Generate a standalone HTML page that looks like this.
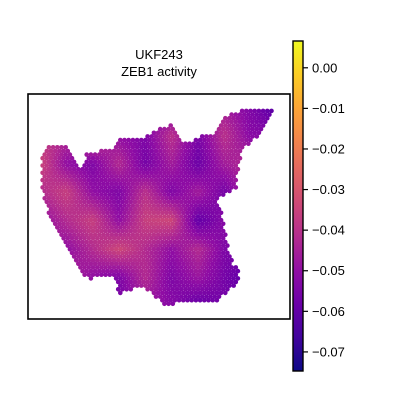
<!DOCTYPE html>
<html><head><meta charset="utf-8"><style>
body{margin:0;background:#fff}
svg{display:block;font-family:"Liberation Sans","DejaVu Sans",sans-serif}
</style></head><body>
<svg id="chart" width="400" height="400">
<text x="159" y="59" text-anchor="middle" font-size="13">UKF243</text>
<text x="159" y="76" text-anchor="middle" font-size="13">ZEB1 activity</text>
<g id="spots"></g>
<rect x="28" y="94" width="262" height="225" fill="none" stroke="#000" stroke-width="1.6"/>
<defs><linearGradient id="pl" x1="0" y1="1" x2="0" y2="0">
<stop offset="0" stop-color="#0d0887"/><stop offset=".1" stop-color="#41049d"/><stop offset=".2" stop-color="#6a00a8"/><stop offset=".3" stop-color="#8f0da4"/><stop offset=".4" stop-color="#b12a90"/><stop offset=".5" stop-color="#cc4778"/><stop offset=".6" stop-color="#e16462"/><stop offset=".7" stop-color="#f2844b"/><stop offset=".8" stop-color="#fca636"/><stop offset=".9" stop-color="#fcce25"/><stop offset="1" stop-color="#f0f921"/></linearGradient></defs>
<rect x="293" y="41" width="10" height="330" fill="url(#pl)" stroke="#000" stroke-width="1.4"/>
<g id="cbticks"></g>
</svg>
<script>
const tickValues=[0,-0.01,-0.02,-0.03,-0.04,-0.05,-0.06,-0.07];
const tickLabels=["0.00","\u22120.01","\u22120.02","\u22120.03","\u22120.04","\u22120.05","\u22120.06","\u22120.07"];
const vmin=-0.0747, vmax=0.0066;
const gridValues=[
[-52,-46,-40,-36,-48,-56,-40,-46,-54,-64],
[-38,-42,-34,-50,-54,-40,-55,-40,-52,-52],
[-34,-50,-54,-42,-56,-46,-58,-46,-42,-36],
[-42,-36,-50,-54,-40,-54,-46,-56,-42,-36],
[-50,-42,-36,-50,-36,-34,-60,-52,-54,-44],
[-44,-50,-42,-34,-42,-50,-42,-54,-56,-54],
[-36,-44,-50,-54,-42,-54,-48,-56,-62,-60],
[-32,-38,-44,-56,-48,-52,-60,-56,-60,-58]];
const outline=[[40,175],[60,160],[120,155],[135,185],[165,225],[175,175],[260,165],[275,135],[345,135],[390,105],[430,90],[460,140],[480,150],[500,130],[560,115],[600,60],[680,40],[745,45],[700,120],[640,170],[630,230],[625,280],[560,320],[580,340],[590,400],[600,460],[615,510],[635,520],[630,570],[590,600],[570,620],[480,620],[440,630],[400,630],[370,590],[340,580],[300,590],[270,600],[260,550],[220,550],[180,555],[150,525],[140,500],[110,460],[90,420],[70,390],[50,320],[40,280]];
const NS="http://www.w3.org/2000/svg";
const stops=["#0d0887","#41049d","#6a00a8","#8f0da4","#b12a90","#cc4778","#e16462","#f2844b","#fca636","#fcce25","#f0f921"].map(h=>[1,3,5].map(i=>parseInt(h.substr(i,2),16)));
function cmap(v){let t=Math.max(0,Math.min(1,(v-vmin)/(vmax-vmin)))*10;let i=Math.min(9,Math.floor(t)),f=t-i;const a=stops[i],b=stops[i+1];return `rgb(${a.map((c,k)=>Math.round(c+(b[k]-c)*f)).join(",")})`;}
function yScale(v){return 371-(v-vmin)/(vmax-vmin)*330;}
const poly=outline.map(p=>[28+p[0]/3,94+p[1]/3]);
function inside(x,y){let c=false;for(let i=0,j=poly.length-1;i<poly.length;j=i++){const[xi,yi]=poly[i],[xj,yj]=poly[j];if((yi>y)!=(yj>y)&&x<(xj-xi)*(y-yi)/(yj-yi)+xi)c=!c;}return c;}
function sample(x,y){const R=gridValues.length,C=gridValues[0].length;let gx=(x-40)/(277-40)*(C-1),gy=(y-107)/(306-107)*(R-1);gx=Math.max(0,Math.min(C-1.001,gx));gy=Math.max(0,Math.min(R-1.001,gy));const i=Math.floor(gy),j=Math.floor(gx),fy=gy-i,fx=gx-j;const v=gridValues[i][j]*(1-fx)*(1-fy)+gridValues[i][j+1]*fx*(1-fy)+gridValues[i+1][j]*(1-fx)*fy+gridValues[i+1][j+1]*fx*fy;return v/1000;}
const g=document.getElementById("spots");
const dx=4.2,dy=3.64;
for(let r=0;r*dy+100<315;r++){const y=100+r*dy;for(let x=30+(r%2)*dx/2;x<288;x+=dx){if(!inside(x,y))continue;const c=document.createElementNS(NS,"circle");c.setAttribute("cx",x.toFixed(1));c.setAttribute("cy",y.toFixed(1));c.setAttribute("r","2.3");c.setAttribute("fill",cmap(sample(x,y)));


g.appendChild(c);}}
const tg=document.getElementById("cbticks");
tickValues.forEach((v,i)=>{const y=yScale(v);const l=document.createElementNS(NS,"line");l.setAttribute("x1",303);l.setAttribute("x2",308);l.setAttribute("y1",y);l.setAttribute("y2",y);l.setAttribute("stroke","#000");l.setAttribute("stroke-width","1.2");


tg.appendChild(l);const t=document.createElementNS(NS,"text");t.setAttribute("x",312);t.setAttribute("y",y+4.5);t.setAttribute("font-size","13");t.textContent=tickLabels[i];


tg.appendChild(t);});
</script>
</body></html>
